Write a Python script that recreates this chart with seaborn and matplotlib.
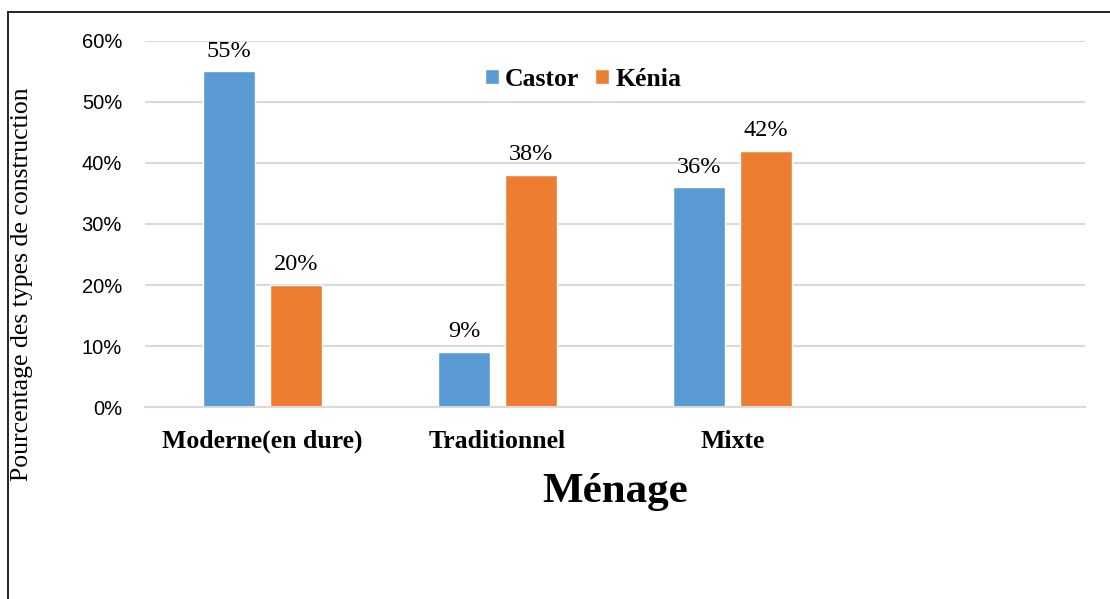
import numpy as np
import pandas as pd
import matplotlib.pyplot as plt
import seaborn as sns
from matplotlib.lines import Line2D
from matplotlib.ticker import FuncFormatter

# données
categories = ['Moderne(en dure)', 'Traditionnel', 'Mixte']
castor = [55, 9, 36]
kenia = [20, 38, 42]
series = ['Castor', 'Kénia']
colors = ['#5b9bd5', '#ed7d31']

df = pd.DataFrame({
    'Ménage': categories * 2,
    'valeur': castor + kenia,
    'site': [series[0]] * len(categories) + [series[1]] * len(categories),
})

sns.set_style('white')
plt.rcParams['text.color'] = 'black'
plt.rcParams['axes.labelcolor'] = 'black'
plt.rcParams['xtick.color'] = 'black'
plt.rcParams['ytick.color'] = 'black'
serif = ['Liberation Serif', 'DejaVu Serif']
sans = ['Liberation Sans', 'DejaVu Sans']

fig = plt.figure(figsize=(11.1, 5.99), dpi=100)
ax = fig.add_axes([0.1306, 0.3205, 0.8469, 0.6111])

sns.barplot(data=df, x='Ménage', y='valeur', hue='site', order=categories,
            hue_order=series, palette=colors, width=0.568, gap=0.215,
            saturation=1, ax=ax)

for cont in ax.containers:
    ax.bar_label(cont, fmt='%d%%', padding=7, fontsize=17.5, family=serif, color='black')

ax.set_xlim(-0.5, 3.5)
ax.set_ylim(0, 60)
ax.set_yticks(np.arange(0, 61, 10))
ax.yaxis.set_major_formatter(FuncFormatter(lambda v, p: f'{int(v)}%'))
ax.grid(axis='y', color='#d9d9d9', linewidth=1.5)
ax.set_axisbelow(True)
for s in ['top', 'right', 'left']:
    ax.spines[s].set_visible(False)
ax.spines['bottom'].set_color('#d9d9d9')
ax.spines['bottom'].set_linewidth(1.5)
ax.tick_params(axis='y', length=0, pad=16.5, labelsize=14.5)
ax.tick_params(axis='x', length=0, pad=16.5)
for t in ax.get_yticklabels():
    t.set_family(sans)
for t in ax.get_xticklabels():
    t.set_family(serif)
    t.set_fontweight('bold')
    t.set_fontsize(18.5)

ax.set_xlabel('Ménage', fontsize=31, fontweight='bold', family=serif, labelpad=14)
ax.set_ylabel('Pourcentage des types de construction', fontsize=18.5, family=serif)
ax.yaxis.set_label_coords(-0.119, 0.336)

ax.legend(loc='center', bbox_to_anchor=(0.466, 0.896), ncol=2, frameon=False,
          handlelength=0.55, handleheight=0.55, handletextpad=0.25, columnspacing=0.6,
          prop={'family': serif, 'weight': 'bold', 'size': 18.5})

# cadre (haut et gauche)
fig.add_artist(Line2D([0.0072, 1.0], [0.98, 0.98], color='black', linewidth=1.2))
fig.add_artist(Line2D([0.0072, 0.0072], [0.0, 0.98], color='black', linewidth=1.2))

fig.savefig('out.png', dpi=100)
